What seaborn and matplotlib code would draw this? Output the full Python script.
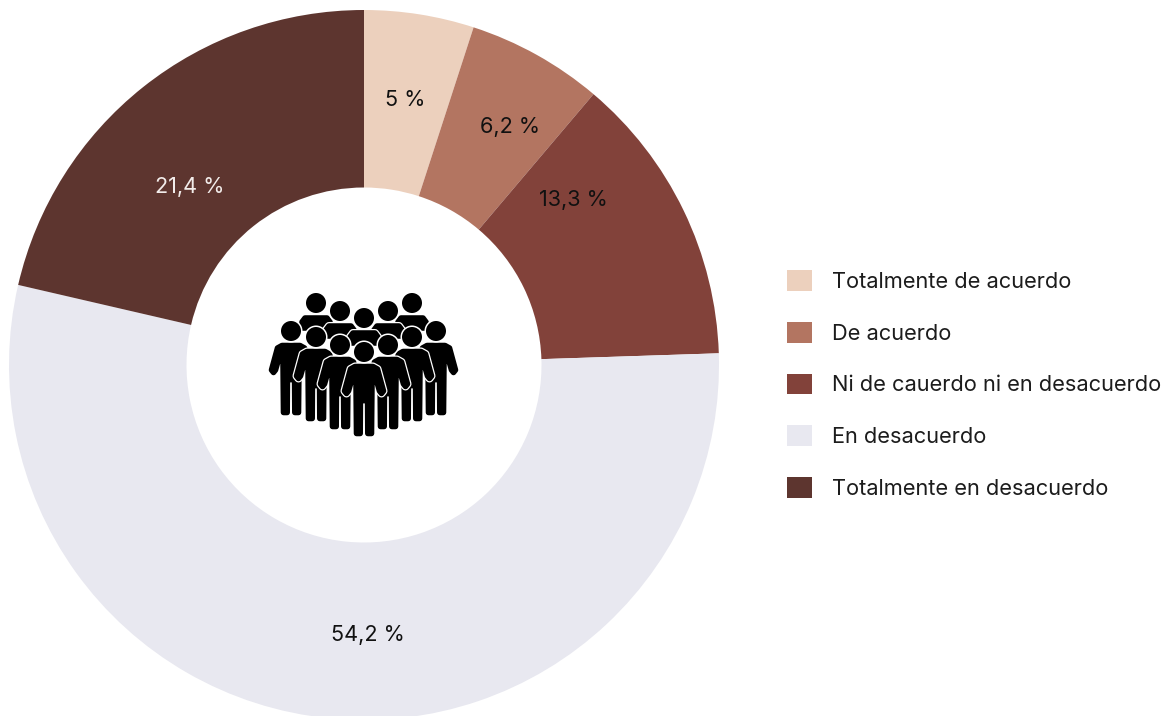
import matplotlib
matplotlib.use("Agg")
import matplotlib.pyplot as plt
import matplotlib.patheffects as pe
from matplotlib.patches import Circle, Polygon
import seaborn as sns

sns.set_theme(style="white")
plt.rcParams["font.family"] = ["Inter", "DejaVu Sans"]

# Survey responses
categories = ["Totalmente de acuerdo", "De acuerdo", "Ni de cauerdo ni en desacuerdo",
              "En desacuerdo", "Totalmente en desacuerdo"]
shares = [5, 6.2, 13.3, 54.2, 21.4]
share_labels = ["5 %", "6,2 %", "13,3 %", "54,2 %", "21,4 %"]
label_colors = ["#111111", "#111111", "#111111", "#111111", "#F2ECEA"]
label_xy = [(405, 100), (510, 127), (573, 200), (368, 635), (190, 187)]
palette = sns.color_palette(["#ECD0BD", "#B37561", "#82423A", "#E8E8F0", "#5D352F"])

W, H = 1168, 716
fig = plt.figure(figsize=(W / 100, H / 100), dpi=100, facecolor="white")

# Donut: centred at (364, 365) px with a 355 px radius, running off the bottom edge
pie_ax = fig.add_axes([9 / W, (H - 720) / H, 710 / W, 710 / H])
wedges, _ = pie_ax.pie(shares, colors=palette, startangle=90, counterclock=False,
                       radius=1, wedgeprops={"width": 0.5, "linewidth": 0})
pie_ax.set_xlim(-1, 1)
pie_ax.set_ylim(-1, 1)
pie_ax.set_clip_on(False)

# Overlay in pixel coordinates for labels, legend and the crowd icon
ov = fig.add_axes([0, 0, 1, 1], facecolor="none")
ov.set_xlim(0, W)
ov.set_ylim(H, 0)
ov.axis("off")

for txt, col, (x, y) in zip(share_labels, label_colors, label_xy):
    ov.text(x, y, txt, color=col, fontsize=15.6, ha="center", va="center")

ov.legend(wedges, categories, loc="upper left", bbox_to_anchor=(787, 270),
          bbox_transform=ov.transData, frameon=False, fontsize=15.7,
          borderpad=0, borderaxespad=0, handlelength=1.15, handleheight=1.1,
          handletextpad=0.93, labelspacing=1.37, labelcolor="#1c1c1c")

# Crowd icon: back row shows heads and shoulders, front row shows whole figures
back_row = [(316, 303), (412, 303), (340, 311), (388, 311), (364, 318)]
front_row = [(291, 331), (436, 331), (316, 337), (412, 337), (340, 345), (388, 345), (364, 352)]

half_body = [(0, 14.5), (9, 14.5), (13.5, 17), (19.5, 39), (17.5, 41.5), (15.5, 39), (11.5, 25),
             (8, 30), (7.5, 81.5), (3.8, 81.5), (3.6, 50), (0, 48)]
half_bust = [(0, 15), (11, 15), (14, 19), (14, 25), (0, 25)]
halo = [pe.withStroke(linewidth=5.8, foreground="white")]


def outline(half, x0, y0):
    right = [(x0 + dx, y0 + dy) for dx, dy in half]
    left = [(x0 - dx, y0 + dy) for dx, dy in reversed(half)]
    return right + left


def person(x0, y0, half, z):
    body = Polygon(outline(half, x0, y0), closed=True, facecolor="black", edgecolor="black",
                   linewidth=4.0, joinstyle="round", zorder=z, path_effects=halo)
    head = Circle((x0, y0), 10, facecolor="black", edgecolor="none", zorder=z + 0.1,
                  path_effects=[pe.withStroke(linewidth=2.2, foreground="white")])
    ov.add_patch(body)
    ov.add_patch(head)


for i, (x, y) in enumerate(back_row):
    person(x, y, half_bust, 5 + i)
for i, (x, y) in enumerate(front_row):
    person(x, y, half_body, 12 + i)

fig.savefig("out.png", dpi=100, facecolor="white")
